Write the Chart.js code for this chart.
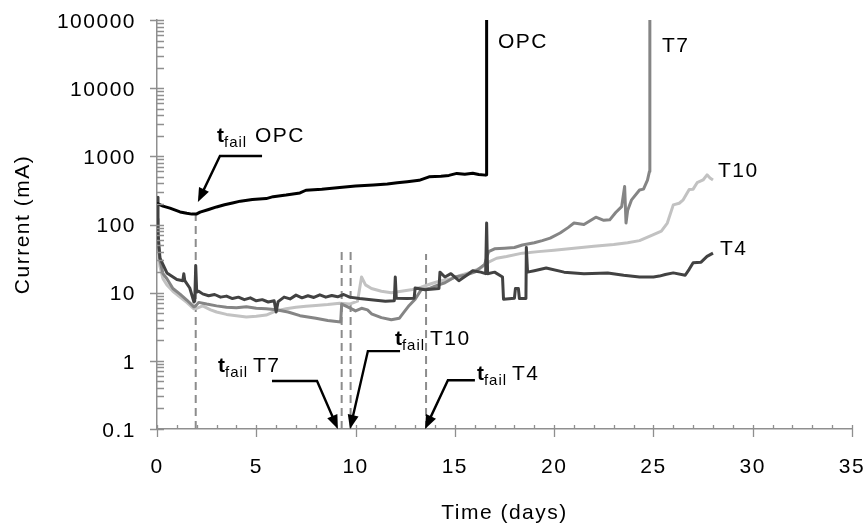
<!DOCTYPE html>
<html>
<head>
<meta charset="utf-8">
<title>Current vs time</title>
<script src="https://cdn.jsdelivr.net/npm/chart.js@4.4.1/dist/chart.umd.min.js"></script>
<style>
  html, body { margin: 0; padding: 0; background: #fff; }
  #wrap { width: 868px; height: 529px; }
</style>
</head>
<body>
<div id="wrap"><canvas id="chart" width="868" height="529"></canvas></div>
<script>
/* ── values ── */

const xTickLabels = [0, 5, 10, 15, 20, 25, 30, 35];
const yTickLabels = ['0.1', '1', '10', '100', '1000', '10000', '100000'];

// [day, current mA]
const opcSeries = [
    [0, 205], [0.3, 186], [0.65, 174], [1.16, 153], [1.5, 146], [1.76, 142], [2.0, 143], [2.17, 152],
    [2.6, 166], [3.0, 181], [3.4, 195], [3.8, 207], [4.2, 220], [4.8, 232], [5.5, 240], [5.85, 256],
    [6.5, 270], [7.2, 290], [7.5, 318], [8.3, 330], [9.2, 350], [9.6, 358], [10.0, 366], [10.9, 380],
    [11.6, 392], [12.1, 410], [12.6, 425], [13.2, 445], [13.7, 500], [14.3, 510], [14.7, 525], [15.1, 562],
    [15.5, 545], [15.9, 565], [16.2, 540], [16.55, 530], [16.6, 535], [16.6, 100000]
];

const t4Series = [
    [0, 250], [0.05, 75], [0.15, 32], [0.5, 19.5], [1.0, 15.6], [1.3, 15], [1.35, 19], [1.4, 15],
    [1.65, 11.7], [1.86, 7.3], [1.9, 7.5], [1.95, 25], [2.0, 10.2], [2.1, 10.5], [2.3, 9.6], [2.6, 9.0],
    [2.9, 9.4], [3.2, 8.6], [3.5, 8.9], [3.8, 8.2], [4.1, 8.6], [4.4, 7.9], [4.7, 8.4], [5.0, 7.6],
    [5.3, 7.9], [5.6, 7.3], [5.9, 7.6], [6.0, 5.2], [6.1, 7.4], [6.4, 8.6], [6.7, 8.1], [7.0, 9.2],
    [7.3, 8.4], [7.6, 9.0], [7.9, 8.5], [8.2, 9.3], [8.5, 8.6], [8.8, 9.1], [9.1, 8.7], [9.4, 9.4],
    [9.7, 8.6], [10.2, 8.2], [10.9, 7.8], [11.5, 7.5], [11.95, 7.6], [12.0, 17], [12.05, 8.3], [12.6, 8.2],
    [12.95, 8.3], [13.0, 11.7], [13.5, 11], [14.2, 11.5], [14.25, 20], [14.5, 17], [14.8, 19], [15.2, 15],
    [15.6, 18], [15.9, 21], [16.3, 20], [16.55, 19], [16.6, 105], [16.65, 19], [17.0, 20], [17.4, 17],
    [17.45, 8], [18.0, 8.3], [18.05, 11.5], [18.2, 11.5], [18.25, 8.2], [18.58, 8.2], [18.6, 46], [18.66, 20],
    [19.0, 21], [19.6, 23], [20.5, 20], [21.0, 19.5], [21.5, 19], [22.7, 19.5], [23.5, 18], [24.3, 17],
    [25.0, 17], [25.3, 17.5], [25.6, 18.5], [26.0, 19.5], [26.6, 18], [26.8, 22], [27.0, 27.5], [27.4, 28],
    [27.7, 34], [28.0, 38]
];

const t7Series = [
    [0, 120], [0.05, 55], [0.15, 30], [0.3, 19], [0.5, 16], [0.8, 11.5], [1.16, 9.5], [1.5, 7.8],
    [1.86, 6.2], [1.95, 6.4], [2.1, 7.2], [2.5, 6.8], [3.0, 6.4], [3.5, 6.1], [4.0, 6.0], [4.5, 6.2],
    [5.0, 5.9], [5.5, 5.8], [6.0, 5.6], [6.6, 5.2], [7.2, 4.6], [7.6, 4.4], [8.0, 4.2], [8.6, 3.9],
    [9.25, 3.7], [9.3, 6.8], [9.6, 6.2], [10.0, 5.4], [10.3, 5.9], [10.6, 5.6], [10.8, 4.9], [11.3, 4.3],
    [11.8, 4.0], [12.2, 4.2], [12.4, 5.0], [12.7, 6.5], [13.0, 8], [13.3, 11], [13.7, 11.5], [14.0, 12.5],
    [14.5, 14], [15.0, 17], [15.5, 18], [16.0, 20], [16.5, 26], [16.7, 40], [17.0, 44], [17.5, 45],
    [18.0, 46], [18.4, 50], [19.0, 54], [19.4, 58], [19.8, 63], [20.3, 75], [20.7, 90], [21.0, 105],
    [21.5, 100], [22.1, 128], [22.5, 115], [22.8, 117], [23.1, 150], [23.4, 183], [23.55, 360], [23.62, 105],
    [23.7, 160], [23.9, 230], [24.3, 320], [24.5, 330], [24.7, 447], [24.8, 600], [24.82, 100000]
];

const t10Series = [
    [0, 80], [0.05, 45], [0.15, 24], [0.3, 16], [0.5, 13], [0.8, 10.5], [1.16, 8.6], [1.5, 7.2],
    [1.86, 5.8], [2.0, 5.9], [2.3, 6.4], [2.7, 5.6], [3.0, 5.2], [3.5, 4.8], [4.0, 4.6], [4.5, 4.4],
    [5.0, 4.5], [5.5, 4.7], [6.0, 5.4], [6.5, 5.8], [7.0, 6.1], [7.5, 6.3], [8.0, 6.5], [8.6, 6.7],
    [9.2, 7.0], [9.7, 6.8], [10.1, 7.5], [10.3, 17], [10.5, 13], [10.8, 11.5], [11.3, 10.5], [11.8, 10.0],
    [12.3, 10.5], [12.8, 11], [13.3, 12], [13.8, 13.5], [14.3, 15], [14.8, 16], [15.3, 18], [15.8, 20],
    [16.3, 23], [16.7, 28], [17.1, 32], [17.6, 34], [18.4, 38], [19.2, 40], [20.0, 42], [21.0, 45],
    [22.0, 48], [23.0, 51], [23.7, 54], [24.3, 58], [25.0, 71], [25.4, 80], [25.7, 105], [26.0, 194],
    [26.3, 205], [26.5, 230], [26.8, 325], [27.0, 330], [27.2, 410], [27.5, 450], [27.7, 535], [27.85, 480],
    [28.0, 450]
];

// failure times (days) and how high each dashed marker reaches (mA)
const failNames = ['OPC', 'T7', 'T10', 'T4'];
const failDays = [1.95, 9.3, 9.75, 13.55];
const failTops = [160, 44, 44, 37];

/* ── annotation anchors, in data units [day, mA] ── */
const calloutText = [[3.02, 1600], [3.07, 0.685], [11.98, 1.71], [16.11, 0.524]];
const calloutStart = [[5.29, 1010], [5.79, 0.506], [12.24, 1.39], [16.01, 0.52]];
const calloutElbow = [[3.17, 1010], [8.06, 0.506], [10.62, 1.39], [14.65, 0.52]];
const calloutTip = [[2.06, 214], [9.11, 0.1], [9.72, 0.1], [13.5, 0.1]];

const seriesNames = ['OPC', 'T7', 'T10', 'T4'];
const seriesNameAt = [[17.17, 39000], [25.43, 34000], [28.25, 500], [28.35, 35.7]];

const FONT = '"Liberation Sans", Arial, Helvetica, sans-serif';
const AXIS_GREY = '#8f8f8f';

const toPoints = (pairs) => pairs.map(([x, y]) => ({ x, y }));

const lineSet = (label, pairs, color) => ({
    label: label,
    data: toPoints(pairs),
    borderColor: color,
    borderWidth: 3,
    borderJoinStyle: 'round',
    pointRadius: 0,
    tension: 0
});

const datasets = [
    lineSet('OPC', opcSeries, '#000000'),
    lineSet('T4', t4Series, '#424242'),
    lineSet('T7', t7Series, '#858585'),
    lineSet('T10', t10Series, '#c2c2c2')
];

failDays.forEach((d, i) => {
    datasets.push({
        label: 'tfail ' + failNames[i],
        data: [{ x: d, y: 0.1 }, { x: d, y: failTops[i] }],
        borderColor: '#8c8c8c',
        borderWidth: 2,
        borderDash: [8, 5],
        pointRadius: 0
    });
});

// ticks, callouts and series names
const decorations = {
    id: 'decorations',
    beforeDraw(chart) {
        chart.ctx.letterSpacing = '1.5px';
    },
    afterDraw(chart) {
        const { ctx, chartArea: a, scales: { x, y } } = chart;
        const px = (p) => [x.getPixelForValue(p[0]), y.getPixelForValue(p[1])];

        ctx.save();

        // axis tick marks
        ctx.strokeStyle = AXIS_GREY;
        ctx.lineWidth = 1.3;
        ctx.beginPath();
        for (let d = xTickLabels[0]; d <= xTickLabels[xTickLabels.length - 1]; d++) {
            const xp = Math.round(x.getPixelForValue(d)) + 0.5;
            ctx.moveTo(xp, a.bottom - 4);
            ctx.lineTo(xp, d % 5 === 0 ? a.bottom + 8 : a.bottom);
        }
        for (let e = -1; e <= 5; e++) {
            for (let m = 1; m <= 9; m++) {
                const v = m * Math.pow(10, e);
                if (v > 100000) break;
                const yp = Math.round(y.getPixelForValue(v)) + 0.5;
                ctx.moveTo(m === 1 ? a.left - 7 : a.left, yp);
                ctx.lineTo(a.left + 7, yp);
            }
        }
        ctx.stroke();

        // callout arrows
        ctx.strokeStyle = '#000';
        ctx.fillStyle = '#000';
        ctx.lineWidth = 2.4;
        ctx.lineJoin = 'miter';
        calloutTip.forEach((tipVal, i) => {
            const [sx, sy] = px(calloutStart[i]);
            const [ex, ey] = px(calloutElbow[i]);
            const [tx, ty] = px(tipVal);
            const ang = Math.atan2(ty - ey, tx - ex);
            const L = 14, W = 5.5;
            const c = Math.cos(ang), s = Math.sin(ang);
            ctx.beginPath();
            ctx.moveTo(sx, sy);
            ctx.lineTo(ex, ey);
            ctx.lineTo(tx - L * 0.7 * c, ty - L * 0.7 * s);
            ctx.stroke();
            ctx.beginPath();
            ctx.moveTo(tx, ty);
            ctx.lineTo(tx - L * c + W * s, ty - L * s - W * c);
            ctx.lineTo(tx - L * c - W * s, ty - L * s + W * c);
            ctx.closePath();
            ctx.fill();
        });

        // t_fail labels
        ctx.textBaseline = 'alphabetic';
        ctx.textAlign = 'left';
        calloutText.forEach((anchor, i) => {
            const [lx, ly] = px(anchor);
            ctx.letterSpacing = '1.5px';
            ctx.font = 'bold 21px ' + FONT;
            ctx.fillText('t', lx, ly);
            ctx.letterSpacing = '1px';
            ctx.font = '15px ' + FONT;
            ctx.fillText('fail', lx + 7, ly + 5);
            ctx.letterSpacing = '1.5px';
            ctx.font = '21px ' + FONT;
            ctx.fillText(failNames[i], lx + (i === 0 ? 38 : 35), ly);
        });

        // series names
        ctx.font = '21px ' + FONT;
        seriesNameAt.forEach((anchor, i) => {
            const [lx, ly] = px(anchor);
            ctx.fillText(seriesNames[i], lx, ly);
        });

        ctx.restore();
    }
};

new Chart(document.getElementById('chart').getContext('2d'), {
    type: 'line',
    data: { datasets: datasets },
    options: {
        responsive: false,
        animation: false,
        devicePixelRatio: 1,
        layout: { padding: { top: 20, right: 16, left: 0, bottom: 0 } },
        plugins: {
            legend: { display: false },
            tooltip: { enabled: false }
        },
        scales: {
            x: {
                type: 'linear',
                min: 0,
                max: 35,
                afterFit(scale) { scale.height = 100; },
                afterBuildTicks(scale) { scale.ticks = xTickLabels.map(v => ({ value: v })); },
                // grid hidden; tickLength only spaces the labels from the axis
                grid: { display: false, drawTicks: true, tickLength: 26 },
                border: { color: AXIS_GREY, width: 1.5 },
                ticks: {
                    color: '#000',
                    font: { family: FONT, size: 21 },
                    padding: 0,
                    maxRotation: 0,
                    autoSkip: false
                },
                title: {
                    display: true,
                    text: 'Time (days)',
                    color: '#000',
                    font: { family: FONT, size: 21 },
                    padding: { top: 0, bottom: 3 }
                }
            },
            y: {
                type: 'logarithmic',
                min: 0.1,
                max: 100000,
                afterFit(scale) { scale.width = 157; },
                afterBuildTicks(scale) { scale.ticks = yTickLabels.map(t => ({ value: Number(t) })); },
                grid: { display: false, drawTicks: true, tickLength: 21 },
                border: { color: AXIS_GREY, width: 1.5 },
                ticks: {
                    color: '#000',
                    font: { family: FONT, size: 21 },
                    padding: 0,
                    labelOffset: 2,
                    autoSkip: false,
                    callback: (v, i) => yTickLabels[i]
                },
                title: {
                    display: true,
                    text: 'Current (mA)',
                    color: '#000',
                    font: { family: FONT, size: 21 },
                    padding: { top: 11, bottom: 0 }
                }
            }
        }
    },
    plugins: [decorations]
});
</script>
</body>
</html>
